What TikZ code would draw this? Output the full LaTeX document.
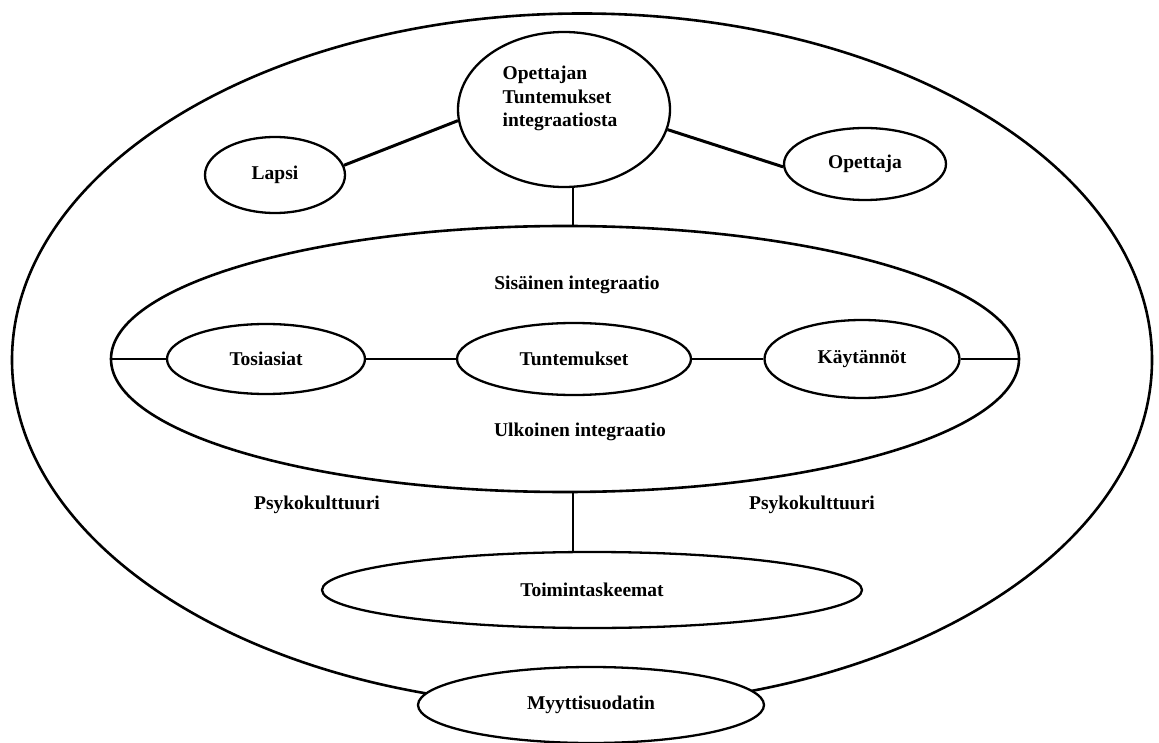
\documentclass[tikz,border=0pt]{standalone}
\usepackage{fontspec}
\setmainfont{Liberation Serif}
\usetikzlibrary{shapes.geometric}
\begin{document}
\begin{tikzpicture}[x=1pt,y=-1pt,
  every node/.style={font=\bfseries\fontsize{19.5pt}{21pt}\selectfont},
  oval/.style={ellipse, draw, line width=2.3pt, fill=white, inner sep=0pt},
  bigoval/.style={oval, line width=2.6pt},
  link/.style={line width=2.2pt},
  heavylink/.style={line width=3pt}]
\useasboundingbox (0,0) rectangle (1159,743);

% outer boundary
\node[bigoval, minimum width=1140pt, minimum height=693pt] (outer) at (582,360) {};

% teacher's experience of integration
\node[oval, minimum width=212pt, minimum height=155pt] (top) at (564,109.5) {};
\node[align=left, font=\bfseries\fontsize{19.5pt}{23.5pt}\selectfont] (toptext) at (560,98.5)
  {Opettajan\\Tuntemukset\\integraatiosta};
\node[oval, minimum width=140pt, minimum height=76pt] (lapsi) at (275,175) {Lapsi};
\node[oval, minimum width=162pt, minimum height=72pt] (opettaja) at (865,164) {Opettaja};

% inner integration ellipse
\node[bigoval, minimum width=908pt, minimum height=266pt] (inner) at (565,359) {};
\node (sis) at (577,285) {Sisäinen integraatio};
\node (ulk) at (580,432) {Ulkoinen integraatio};
\node[oval, minimum width=198pt, minimum height=70pt] (tos) at (266,359) {Tosiasiat};
\node[oval, minimum width=234pt, minimum height=72pt] (tun) at (574,359) {Tuntemukset};
\node[oval, minimum width=195pt, minimum height=78pt] (kay) at (862,359) {Käytännöt};

% psychoculture and schemes
\node (psyL) at (317,505) {Psykokulttuuri};
\node (psyR) at (812,505) {Psykokulttuuri};
\node[oval, minimum width=540pt, minimum height=76pt] (toim) at (592,590) {Toimintaskeemat};
\node[oval, minimum width=346pt, minimum height=76pt] (myyt) at (591,705) {Myyttisuodatin};

% connectors
\draw[heavylink] (top.186) -- (lapsi.8);
\draw[heavylink] (top.349) -- (opettaja.182);
\draw[link] ([xshift=9pt]top.south) -- ([xshift=9pt]top.south |- inner.north);
\draw[link] (inner.west) -- (tos);
\draw[link] (tos) -- (tun);
\draw[link] (tun) -- (kay);
\draw[link] (kay) -- (inner.east);
\draw[link] ([xshift=8pt]inner.south) -- ([xshift=8pt]inner.south |- toim.north);
\end{tikzpicture}
\end{document}
